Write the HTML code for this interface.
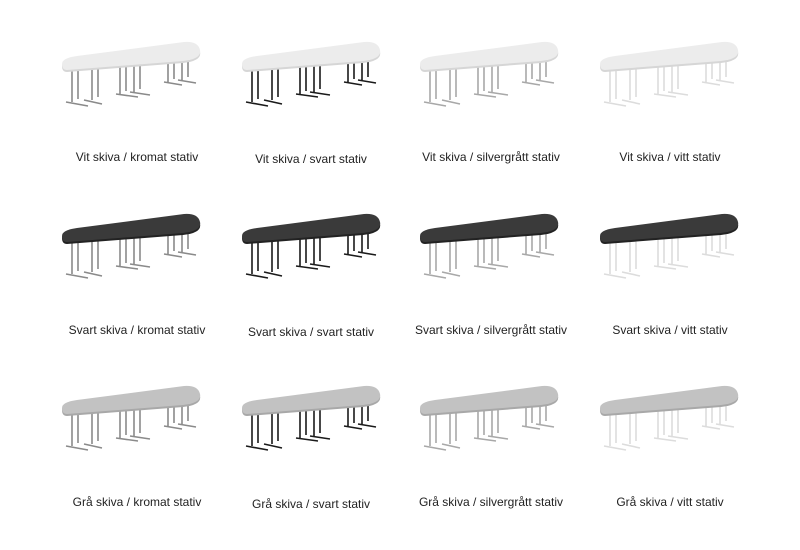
<!DOCTYPE html>
<html><head><style>
body{margin:0;background:#fff;width:800px;height:550px;overflow:hidden}
svg{position:absolute;left:0;top:0}
text{font-family:"Liberation Sans",sans-serif;font-size:12px;fill:#222;text-anchor:middle}
</style></head><body>
<svg width="800" height="550" viewBox="0 0 800 550">
<defs>
<g id="legs">
 <path d="M10,2 v32 M16,1 v30 M30,0 v32 M36,-1 v30 M4,34 l22,4 M22,32 l18,4 M58,-4 v30 M64,-5 v28 M72,-6 v30 M78,-7 v28 M54,26 l22,3 M68,24 l20,3 M106,-12 v26 M112,-13 v24 M120,-14 v26 M126,-15 v24 M102,14 l18,3 M116,12 l18,3" fill="none" stroke-width="1.6"/>
</g>
<g id="top">
 <path d="M5,2 L121,-7 Q140,-9 138,-18 Q136,-27 122,-26 L15,-12 Q0,-10 0,-4 Q0,2 5,2 Z"/>
</g>
</defs>
<!-- Row 1 -->
<g transform="translate(62,68)"><use href="#legs" stroke="#8a8a8a"/><use href="#top" fill="#d6d6d6" transform="translate(0,2)"/><use href="#top" fill="#ececec"/></g>
<g transform="translate(242,68)"><use href="#legs" stroke="#1a1a1a"/><use href="#top" fill="#d6d6d6" transform="translate(0,2)"/><use href="#top" fill="#ececec"/></g>
<g transform="translate(420,68)"><use href="#legs" stroke="#a8a8a8"/><use href="#top" fill="#d6d6d6" transform="translate(0,2)"/><use href="#top" fill="#ececec"/></g>
<g transform="translate(600,68)"><use href="#legs" stroke="#dcdcdc"/><use href="#top" fill="#d6d6d6" transform="translate(0,2)"/><use href="#top" fill="#ececec"/></g>
<!-- Row 2 -->
<g transform="translate(62,240)"><use href="#legs" stroke="#8a8a8a"/><use href="#top" fill="#222" transform="translate(0,2)"/><use href="#top" fill="#3a3a3a"/></g>
<g transform="translate(242,240)"><use href="#legs" stroke="#1a1a1a"/><use href="#top" fill="#222" transform="translate(0,2)"/><use href="#top" fill="#3a3a3a"/></g>
<g transform="translate(420,240)"><use href="#legs" stroke="#a8a8a8"/><use href="#top" fill="#222" transform="translate(0,2)"/><use href="#top" fill="#3a3a3a"/></g>
<g transform="translate(600,240)"><use href="#legs" stroke="#dcdcdc"/><use href="#top" fill="#222" transform="translate(0,2)"/><use href="#top" fill="#3a3a3a"/></g>
<!-- Row 3 -->
<g transform="translate(62,412)"><use href="#legs" stroke="#8a8a8a"/><use href="#top" fill="#a8a8a8" transform="translate(0,2)"/><use href="#top" fill="#c2c2c2"/></g>
<g transform="translate(242,412)"><use href="#legs" stroke="#1a1a1a"/><use href="#top" fill="#a8a8a8" transform="translate(0,2)"/><use href="#top" fill="#c2c2c2"/></g>
<g transform="translate(420,412)"><use href="#legs" stroke="#a8a8a8"/><use href="#top" fill="#a8a8a8" transform="translate(0,2)"/><use href="#top" fill="#c2c2c2"/></g>
<g transform="translate(600,412)"><use href="#legs" stroke="#dcdcdc"/><use href="#top" fill="#a8a8a8" transform="translate(0,2)"/><use href="#top" fill="#c2c2c2"/></g>

<text x="137" y="161">Vit skiva / kromat stativ</text>
<text x="311" y="163">Vit skiva / svart stativ</text>
<text x="491" y="161">Vit skiva / silvergrått stativ</text>
<text x="670" y="161">Vit skiva / vitt stativ</text>
<text x="137" y="334">Svart skiva / kromat stativ</text>
<text x="311" y="336">Svart skiva / svart stativ</text>
<text x="491" y="334">Svart skiva / silvergrått stativ</text>
<text x="670" y="334">Svart skiva / vitt stativ</text>
<text x="137" y="506">Grå skiva / kromat stativ</text>
<text x="311" y="508">Grå skiva / svart stativ</text>
<text x="491" y="506">Grå skiva / silvergrått stativ</text>
<text x="670" y="506">Grå skiva / vitt stativ</text>
</svg>
</body></html>
